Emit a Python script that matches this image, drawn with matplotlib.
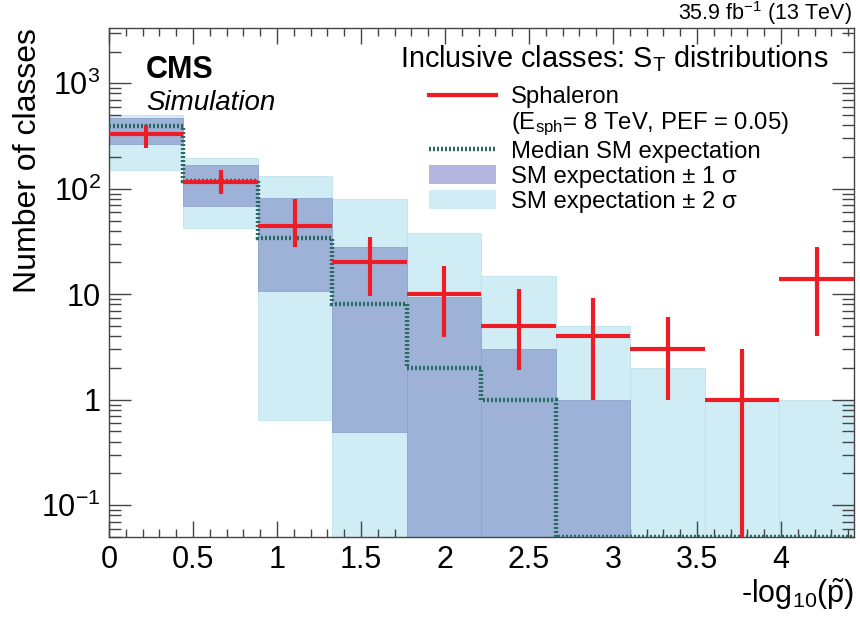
import numpy as np
import matplotlib
matplotlib.use("Agg")
from matplotlib import pyplot as plt
from matplotlib.lines import Line2D
from matplotlib.patches import Patch
from matplotlib.ticker import FixedLocator, FixedFormatter, MultipleLocator, LogLocator, NullFormatter

plt.rcParams['font.family'] = ['Liberation Sans', 'DejaVu Sans']
plt.rcParams['mathtext.fontset'] = 'custom'
plt.rcParams['mathtext.rm'] = 'Liberation Sans'
plt.rcParams['mathtext.it'] = 'Liberation Sans:italic'
plt.rcParams['mathtext.bf'] = 'Liberation Sans:bold'

# binning of -log10(p~)
x_max = 4.434
n_bins = 10
edges = np.linspace(0, x_max, n_bins + 1)

# sphaleron signal and its error bars
sph = [334, 117, 44, 20, 10, 5, 4, 3, 1, 14]
sph_hi = [405, 152, 80, 34.7, 18.5, 11.3, 9.2, 6.1, 3.0, 28]
sph_lo = [242, 90, 28, 9.6, 3.9, 1.9, 1.0, 1.0, 0, 4.0]

# SM expectation: median and bands (0 = down to axis)
median = [395, 118, 34, 8, 2, 1, 0, 0, 0, 0]
one_lo = [266, 68, 10.7, 0.49, 0, 0, 0, 0, 0, 0]
one_hi = [465, 168, 81.5, 28, 9.5, 3, 1, 0, 0, 0]
two_lo = [152, 42.5, 0.64, 0, 0, 0, 0, 0, 0, 0]
two_hi = [500, 197, 133, 80, 38, 15, 5, 2, 1, 1]

y_min, y_max = 0.05, 3340

c_red = '#ee1c25'
c_med = '#2b6a62'
c_one = '#9eb2d8'
c_two = '#d0ecf4'

fig = plt.figure(figsize=(8.6, 6.2), dpi=100)
ax = fig.add_axes([0.1267, 0.1339, 0.8663, 0.8209])
ax.set_yscale('log')

width = edges[1] - edges[0]
lefts = edges[:-1]
centers = lefts + width / 2


def clip(a):
    a = np.asarray(a, dtype=float)
    return np.where(a > 0, a, y_min)


b2 = clip(two_lo)
ax.bar(lefts, clip(two_hi) - b2, bottom=b2, width=width, align='edge',
       color=c_two, edgecolor='#bfe2ee', linewidth=0.6, zorder=1)
b1 = clip(one_lo)
h1 = clip(one_hi) - b1
ax.bar(lefts, h1, bottom=b1, width=width, align='edge',
       color=c_one, edgecolor='#8da3cf', linewidth=0.6, zorder=2)

ax.stairs(clip(median), edges, baseline=None, color=c_med, linewidth=3.2,
          linestyle=(0, (0.45, 0.45)), zorder=3)

ax.hlines(sph, lefts, edges[1:], color=c_red, linewidth=3, zorder=4)
ax.vlines(centers, clip(sph_lo), sph_hi, color=c_red, linewidth=3, zorder=4)

ax.set_xlim(0, x_max)
ax.set_ylim(y_min, y_max)

ax.xaxis.set_minor_locator(MultipleLocator(0.1))
ax.set_xticks([0, 0.5, 1, 1.5, 2, 2.5, 3, 3.5, 4])
ax.set_xticklabels(['0', '0.5', '1', '1.5', '2', '2.5', '3', '3.5', '4'])

ax.yaxis.set_major_locator(FixedLocator([0.1, 1, 10, 100, 1000]))
ax.yaxis.set_major_formatter(FixedFormatter(['$10^{-1}$', '1', '10', '$10^{2}$', '$10^{3}$']))
ax.yaxis.set_minor_locator(LogLocator(base=10, subs=np.arange(2, 10)))
ax.yaxis.set_minor_formatter(NullFormatter())

ax.tick_params(axis='both', which='both', direction='in', top=True, right=True,
               color='#444444', width=1, labelsize=22)
ax.tick_params(axis='x', which='major', length=11.5, pad=6)
ax.tick_params(axis='x', which='minor', length=5.5)
ax.tick_params(axis='y', which='major', length=16, pad=6)
ax.tick_params(axis='y', which='minor', length=8.5)
for s in ax.spines.values():
    s.set_color('#444444')
    s.set_linewidth(1)

ax.set_xlabel(r'-log$_{10}$($\tilde{\mathrm{p}}$)', fontsize=22, loc='right')
ax.xaxis.set_label_coords(1.0, -0.077)
ax.set_ylabel('Number of classes', fontsize=23, loc='top')
ax.yaxis.set_label_coords(-0.088, 1.0)

ax.text(0.05, 0.902, 'CMS', transform=ax.transAxes, fontsize=22,
        fontweight='bold', va='baseline')
ax.text(0.05, 0.839, 'Simulation', transform=ax.transAxes, fontsize=20,
        style='italic', va='baseline')
ax.text(0.391, 0.923, 'Inclusive classes: S$_\\mathrm{T}$ distributions',
        transform=ax.transAxes, fontsize=20.8, va='baseline')
fig.text(0.991, 0.968, '35.9 fb$^{-1}$ (13 TeV)', fontsize=15.5,
         ha='right', va='baseline')

handles = [
    Line2D([], [], color=c_red, linewidth=3),
    Line2D([], [], color='none'),
    Line2D([], [], color=c_med, linewidth=3.2, linestyle=(0, (0.45, 0.45))),
    Patch(facecolor='#b4b6de'),
    Patch(facecolor=c_two),
]
labels = [
    'Sphaleron',
    '(E$_{\\mathrm{sph}}$= 8 TeV, PEF = 0.05)',
    'Median SM expectation',
    'SM expectation ± 1 σ',
    'SM expectation ± 2 σ',
]
ax.legend(handles, labels, loc='upper left', bbox_to_anchor=(0.43, 0.886),
          frameon=False, fontsize=17.2, handlelength=2.8, handleheight=0.8,
          handletextpad=0.6, labelspacing=0.1, borderpad=0, borderaxespad=0)

plt.savefig('out.png', dpi=100)
